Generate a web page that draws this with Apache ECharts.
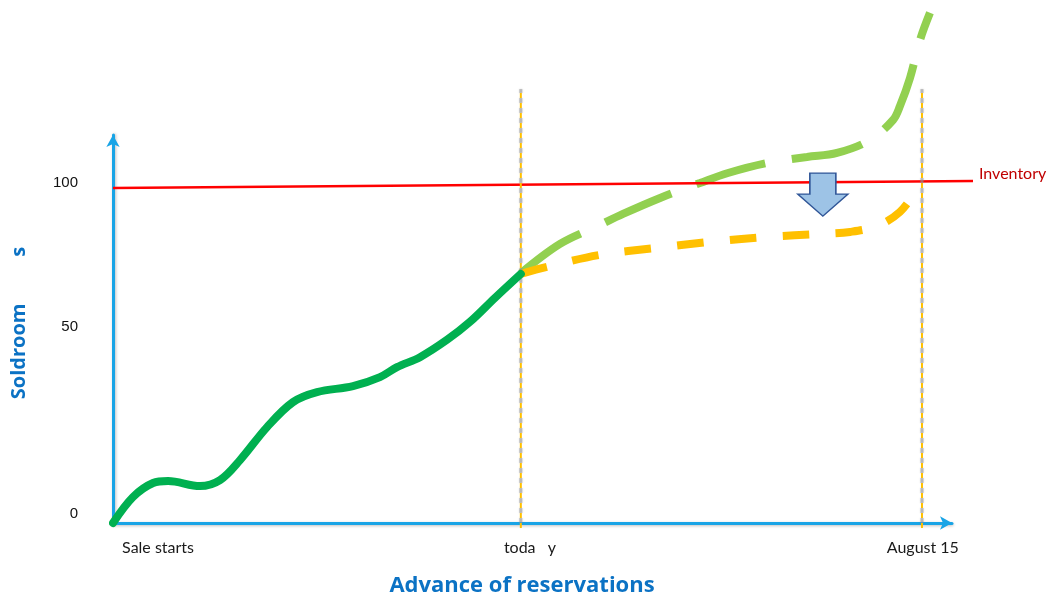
<!DOCTYPE html>
<html>
<head>
<meta charset="utf-8">
<title>Advance of reservations</title>
<script src="https://cdn.jsdelivr.net/npm/echarts@6/dist/echarts.min.js"></script>
<style>
  html, body { margin: 0; padding: 0; background: #ffffff; }
  #chart { width: 1052px; height: 599px; }
</style>
</head>
<body>
<div id="chart"></div>
<script>
// Axis ranges (booking horizon on x, rooms sold on y)
const xMax = 100.6;
const yMax = 116.5;

// Key dates on the booking horizon
const todayX = 48.9;
const augustX = 97.0;
const guideTop = 130.3;
const guideBottom = -1.5;

// Tick labels and where they sit
const xTickAt = [5.4, 50.0, 97.1];
const xTickText = ['Sale starts', 'toda   y', 'August 15'];
const yTickAt = [2.7, 58.9, 102.1];
const yTickText = ['0', '50', '100'];

// Rooms sold so far (up to today)
const soldX = [0, 2.4, 4.8, 6.6, 10.43, 12.83, 15.23, 18.47, 21.58, 24.46, 28.78, 32.01, 34.05, 36.81, 40.05, 42.81, 45.8, 48.9];
const soldY = [0, 7.8, 12.0, 12.6, 11.1, 12.9, 18.9, 28.8, 36.3, 39.3, 41.1, 43.8, 46.8, 49.8, 55.0, 60.4, 67.6, 74.8];

// Unconstrained demand forecast (today to August 15)
const demandX = [48.9, 53.6, 58.15, 61.15, 65.6, 70.38, 73.74, 78.42, 83.21, 86.81, 90.77, 93.53, 94.36, 95.56, 96.76, 97.96];
const demandY = [75.0, 83.8, 89.2, 92.8, 97.6, 102.1, 105.1, 108.1, 109.9, 111.1, 115.0, 121.0, 125.2, 133.6, 145.0, 153.2];

// Lowered forecast (today to August 15)
const lowX = [48.9, 52.04, 58.39, 65.23, 71.58, 78.42, 85.01, 88.37, 91.61, 94.36, 96.52];
const lowY = [74.8, 76.9, 80.5, 82.6, 84.4, 85.9, 86.8, 87.4, 89.2, 93.4, 100.6];

// Room inventory line (runs a little past the end of the x axis)
const inventoryX = [0, 103.1];
const inventoryY = [100.6, 102.7];

// Downward shift marker
const shiftAt = [85.1, 98.6];

const pairs = (xs, ys) => xs.map((x, i) => [x, ys[i]]);
const pickLabel = (at, text) => (v) => {
  let best = 0;
  for (let i = 1; i < at.length; i++) {
    if (Math.abs(at[i] - v) < Math.abs(at[best] - v)) best = i;
  }
  return text[best];
};

const axisBlue = '#19a4e6';
const titleBlue = '#0b72c4';

// Plot area; the second grid shares the same scale but reaches further right
const plotLeft = 113, plotTop = 135, plotBottom = 76;
const axisRight = 100, inventoryRight = 79;

function guideSeries(x) {
  return [
    {
      type: 'line', clip: false, silent: true, symbol: 'none', z: 4,
      data: [[x, guideBottom], [x, guideTop]],
      lineStyle: { color: 'rgba(150,150,150,0.55)', width: 3, type: [5, 5], dashOffset: 5, shadowColor: 'rgba(120,120,120,0.5)', shadowBlur: 2 }
    },
    {
      type: 'line', clip: false, silent: true, symbol: 'none', z: 5,
      data: [[x, guideBottom], [x, guideTop]],
      lineStyle: { color: '#ffc000', width: 2, type: [5, 5] }
    }
  ];
}

const chart = echarts.init(document.getElementById('chart'), null, { renderer: 'canvas' });

chart.setOption({
  animation: false,
  backgroundColor: '#ffffff',
  grid: [
    { left: plotLeft, right: axisRight, top: plotTop, bottom: plotBottom, outerBoundsMode: 'none' },
    { left: plotLeft, right: inventoryRight, top: plotTop, bottom: plotBottom, outerBoundsMode: 'none' }
  ],
  xAxis: [
    {
      type: 'value', min: 0, max: xMax, gridIndex: 0,
      name: 'Advance of reservations',
      nameLocation: 'middle', nameGap: 52,
      nameTextStyle: { color: titleBlue, fontFamily: 'Open Sans', fontWeight: 'bold', fontSize: 22, padding: [0, 21, 0, 0] },
      axisLine: { show: true, symbol: ['none', 'arrow'], symbolSize: [10, 12],
        lineStyle: { color: axisBlue, width: 3, shadowColor: 'rgba(0,0,0,0.25)', shadowBlur: 3, shadowOffsetY: 1 } },
      axisTick: { show: false },
      splitLine: { show: false },
      axisLabel: {
        customValues: xTickAt, formatter: pickLabel(xTickAt, xTickText),
        color: '#1a1a1a', fontFamily: 'Lato', fontSize: 16, margin: 17
      }
    },
    {
      type: 'value', min: 0, max: inventoryX[1], gridIndex: 1, show: false
    }
  ],
  yAxis: [
    {
      type: 'value', min: 0, max: yMax, gridIndex: 0,
      name: 'Soldroom         s',
      nameLocation: 'middle', nameGap: 84, nameRotate: 90,
      nameTextStyle: { color: titleBlue, fontFamily: 'Open Sans', fontWeight: 'bold', fontSize: 20, padding: [0, 0, 0, 12] },
      axisLine: { show: true, symbol: ['none', 'arrow'], symbolSize: [10, 12],
        lineStyle: { color: axisBlue, width: 3, shadowColor: 'rgba(0,0,0,0.25)', shadowBlur: 3, shadowOffsetX: 1 } },
      axisTick: { show: false },
      splitLine: { show: false },
      axisLabel: {
        customValues: yTickAt, formatter: pickLabel(yTickAt, yTickText),
        color: '#111111', fontFamily: 'Liberation Sans', fontSize: 15, margin: 35
      }
    },
    {
      type: 'value', min: 0, max: yMax, gridIndex: 1, show: false
    }
  ],
  series: [
    {
      name: 'Demand forecast', type: 'line', clip: false, symbol: 'none', z: 2,
      smooth: 0.35,
      data: pairs(demandX, demandY),
      lineStyle: { color: '#92d050', width: 8, type: [72, 27], cap: 'butt' }
    },
    {
      name: 'Lowered forecast', type: 'line', clip: false, symbol: 'none', z: 2,
      smooth: 0.35,
      data: pairs(lowX, lowY),
      lineStyle: { color: '#ffc000', width: 8, type: [27, 26], cap: 'butt' }
    },
    {
      name: 'Inventory', type: 'line', symbol: 'none', z: 3,
      xAxisIndex: 1, yAxisIndex: 1,
      data: pairs(inventoryX, inventoryY),
      lineStyle: { color: '#ff0000', width: 2.5 },
      endLabel: {
        show: true, formatter: 'Inventory', distance: 6, offset: [0, -7],
        color: '#c00000', fontFamily: 'Lato', fontSize: 16
      },
      markPoint: {
        silent: true, z: 6,
        data: [
          {
            coord: shiftAt,
            symbol: 'path://M12,0 L38,0 L38,21 L50,21 L25,43 L0,21 L12,21 Z',
            symbolSize: [50, 43],
            itemStyle: { color: '#9dc3e6', borderColor: '#2f5597', borderWidth: 1.5 },
            label: { show: false }
          }
        ]
      }
    },
    ...guideSeries(todayX),
    ...guideSeries(augustX),
    {
      name: 'Rooms sold', type: 'line', clip: false, symbol: 'none', z: 6,
      smooth: 0.35,
      data: pairs(soldX, soldY),
      lineStyle: { color: '#00b050', width: 8, cap: 'round' }
    }
  ]
});
</script>
</body>
</html>
